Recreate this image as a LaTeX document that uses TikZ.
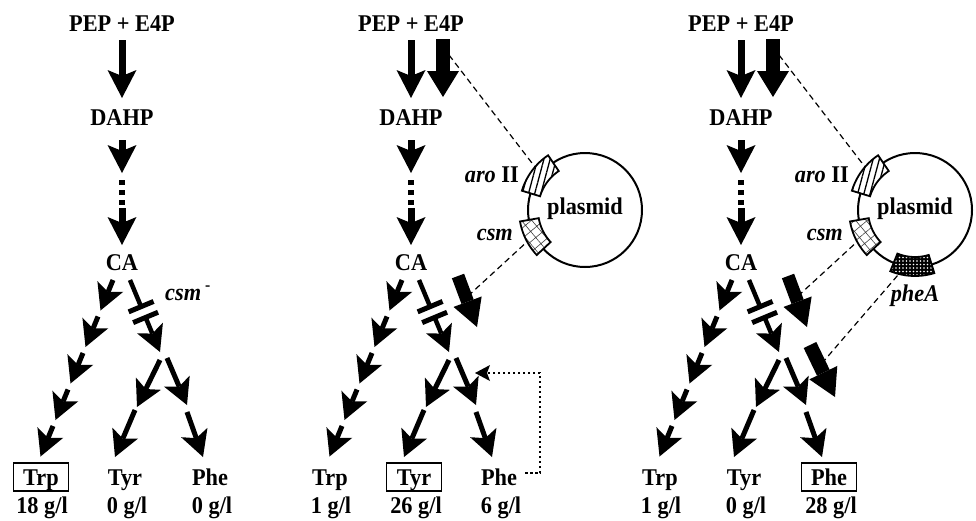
\documentclass[tikz,border=0pt]{standalone}
\usepackage{fontspec}
\setmainfont{Liberation Serif}[FakeStretch=0.93]
\usetikzlibrary{arrows.meta,calc,patterns.meta}
\tikzset{
  lbl/.style={font=\fontsize{24}{26}\selectfont\bfseries, inner sep=0pt, anchor=base},
  boxed/.style={draw, line width=1.5pt, minimum width=55pt, text height=17pt, text depth=1pt, inner ysep=5pt},
  mainarr/.style={line width=7pt, -{Stealth[length=28pt,width=29pt,inset=6pt,line width=0pt]}},
  brarr/.style={line width=5pt, -{Stealth[length=26pt,width=28pt,inset=6pt,line width=0pt]}},
  fatarr/.style={line width=14pt, -{Triangle[length=26pt,width=32pt,line width=0pt]}},
  conn/.style={line width=1.2pt, dash pattern=on 6pt off 4pt},
  fbarr/.style={line width=2.5pt, dash pattern=on 2.5pt off 2.5pt, -{Stealth[length=15pt,width=16pt,inset=3pt,line width=0pt]}},
  segw/.style={preaction={fill=white}, draw, line width=1.8pt},
  segb/.style={preaction={fill=black}, draw, line width=1.8pt},
}
\newcommand{\pathway}[8]{%
\begin{scope}[shift={(#2,0)}]
  \node[lbl] (#1pep) at (0,31) {PEP + E4P};
  \node[lbl] (#1dahp) at (0,125) {DAHP};
  \node[lbl] (#1ca) at (0,270) {CA};
  \coordinate (#1a1s) at (0,40); \coordinate (#1a1e) at (0,98);
  \draw[mainarr] (#1a1s) -- (#1a1e);
  \coordinate (#1d1s) at (0,140); \coordinate (#1d1e) at (0,173);
  \draw[mainarr] (#1d1s) -- (#1d1e);
  \foreach \yy in {180,190,200} \fill (-3,\yy) rectangle (3,\yy+5);
  \coordinate (#1d2s) at (0,208); \coordinate (#1d2e) at (0,245);
  \draw[mainarr] (#1d2s) -- (#1d2e);
  % Trp branch
  \foreach \i in {0,...,4} {
    \coordinate (#1ts\i) at ({-9-15*\i},{280+36.5*\i});
    \coordinate (#1te\i) at ({-21.5-15*\i},{310.5+36.5*\i});
    \draw[brarr] (#1ts\i) -- (#1te\i);
  }
  % csm branch with block
  \coordinate (#1ms) at (8,280); \coordinate (#1me) at (38,352);
  \coordinate (#1b1) at ($(#1ms)!0.37!(#1me)$);
  \coordinate (#1b2) at ($(#1ms)!0.52!(#1me)$);
  \draw[line width=4.5pt] (#1ms) -- (#1b1);
  \draw[brarr, line width=4.5pt] (#1b2) -- (#1me);
  \draw[line width=5pt] ($(#1b1)!13.5pt!90:(#1me)$) -- ($(#1b1)!13.5pt!-90:(#1me)$);
  \draw[line width=5pt] ($(#1b2)!13.5pt!90:(#1me)$) -- ($(#1b2)!13.5pt!-90:(#1me)$);
  % Tyr and Phe
  \coordinate (#1y1s) at (38,360); \coordinate (#1y1e) at (15,407);
  \coordinate (#1y2s) at (13,410); \coordinate (#1y2e) at (-7,457);
  \coordinate (#1p1s) at (45,358); \coordinate (#1p1e) at (65,405);
  \coordinate (#1p2s) at (65,412); \coordinate (#1p2e) at (81,457);
  \draw[brarr] (#1y1s) -- (#1y1e);
  \draw[brarr] (#1y2s) -- (#1y2e);
  \draw[brarr] (#1p1s) -- (#1p1e);
  \draw[brarr] (#1p2s) -- (#1p2e);
  % labels
  \node[lbl,#3] (#1trp) at (-81,485) {Trp};
  \node[lbl,#4] (#1tyr) at (3,485) {Tyr};
  \node[lbl,#5] (#1phe) at (88,485) {Phe};
  \node[lbl] (#1vtrp) at (-80,513) {#6};
  \node[lbl] (#1vtyr) at (5,513) {#7};
  \node[lbl] (#1vphe) at (90,513) {#8};
\end{scope}}
\newcommand{\plasmidpart}[2]{%
\begin{scope}[shift={(#2,0)}]
  \coordinate (#1pc) at (174,210);
  \coordinate (#1c1s) at (38,55); \coordinate (#1c1e) at (124,167);
  \draw[conn] (#1c1s) -- (#1c1e);
  \coordinate (#1c2s) at (57,296); \coordinate (#1c2e) at (118,240);
  \draw[conn] (#1c2s) -- (#1c2e);
  \coordinate (#1f1s) at (32,39); \coordinate (#1f1e) at (32,97);
  \draw[fatarr] (#1f1s) -- (#1f1e);
  \coordinate (#1f2s) at (47,276); \coordinate (#1f2e) at (66,327);
  \draw[line width=13pt, -{Triangle[length=27pt,width=30pt,line width=0pt]}] (#1f2s) -- (#1f2e);
  \node[circle, draw, line width=2pt, minimum size=114pt, inner sep=0pt] (#1circ) at (#1pc) {};
  \node[lbl] (#1plas) at (174,214) {plasmid};
  \begin{scope}[shift={(174,210)}]
    \draw[segw, pattern={Lines[angle=75,distance=6pt,line width=1.3pt]}]
      plot[domain=-163:-124, samples=12] (\x:66) -- plot[domain=-124:-163, samples=12] (\x:47) -- cycle;
    \draw[segw, pattern={Hatch[angle=40,distance=8pt,line width=0.6pt]}, pattern color=black!75]
      plot[domain=-223:-190, samples=12] (\x:66) -- plot[domain=-190:-223, samples=12] (\x:47) -- cycle;
  \end{scope}
  \node[lbl, anchor=base east] (#1aro) at (108,182) {\textit{aro} II};
  \node[lbl, anchor=base east] (#1csm) at (102,240) {\textit{csm}};
\end{scope}}
\begin{document}
\begin{tikzpicture}[x=1pt,y=-1pt]
  \fill[white] (0,0) rectangle (976,520);
  \useasboundingbox (0,0) rectangle (976,520);
  \pathway{L}{122}{boxed}{}{}{18 g/l}{0 g/l}{0 g/l}
  \pathway{M}{411}{}{boxed}{}{1 g/l}{26 g/l}{6 g/l}
  \pathway{R}{741}{}{}{boxed}{1 g/l}{0 g/l}{28 g/l}
  \node[lbl, anchor=base west] (Lcsm) at (165,300) {\textit{csm}\,\textsuperscript{-}};
  \plasmidpart{M}{411}
  \plasmidpart{R}{741}
  % feedback in middle panel
  \begin{scope}[shift={(411,0)}]
    \coordinate (Mfb0) at (114,473); \coordinate (Mfb1) at (129,473);
    \coordinate (Mfb2) at (129,373); \coordinate (Mfb3) at (64,373);
    \draw[fbarr] (Mfb0) -- (Mfb1) -- (Mfb2) -- (Mfb3);
  \end{scope}
  % pheA in right panel
  \begin{scope}[shift={(741,0)}]
    \coordinate (Rc3s) at (163,268); \coordinate (Rc3e) at (82,362);
    \draw[conn] (Rc3s) -- (Rc3e);
    \coordinate (Rf3s) at (69,345); \coordinate (Rf3e) at (94,397);
    \draw[line width=14pt, -{Triangle[length=27pt,width=31pt,line width=0pt]}] (Rf3s) -- (Rf3e);
    \begin{scope}[shift={(174,210)}]
      \draw[segb, pattern={Dots[distance=3.5pt,radius=0.8pt]}, pattern color=white]
        plot[domain=73:112, samples=12] (\x:66) -- plot[domain=112:73, samples=12] (\x:47) -- cycle;
    \end{scope}
    \node[lbl] (Rphea) at (174,301) {\textit{pheA}};
  \end{scope}
\end{tikzpicture}
\end{document}
